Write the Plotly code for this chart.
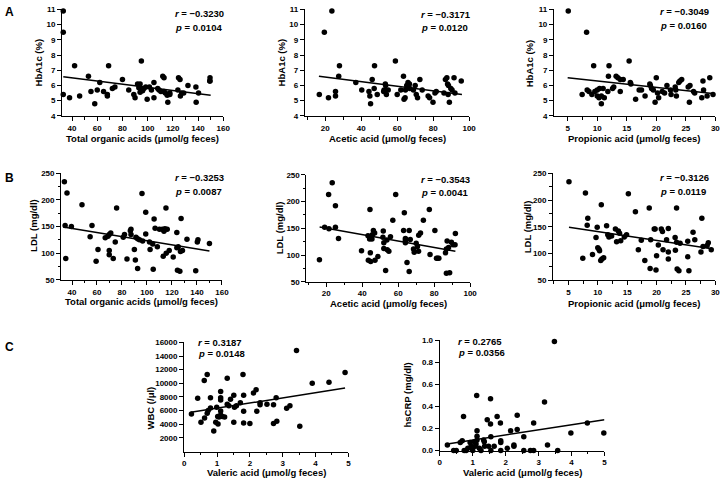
import plotly.graph_objects as go

# ---------------- DATA ----------------
# A1: Total organic acids vs HbA1c
a1_x = [33, 33, 42, 69, 95, 33, 38, 46, 53, 55, 58, 60, 62, 65, 68, 68, 72, 74, 80, 85, 89, 90,
        92, 94, 93, 95, 94, 96, 97, 98.5, 99.6, 101.4, 103, 105, 105, 108, 109, 110.5, 112, 113, 113,
        114, 116, 115.5, 117.6, 117.6, 124, 124.5, 125.7, 126, 127, 128.6, 132, 138.3, 138.5, 140.4,
        149.5, 149.5, 149.3]
a1_y = [10.9, 9.5, 7.3, 7.3, 7.6, 5.4, 5.2, 5.3, 6.6, 5.6, 4.8, 5.7, 6.2, 5.6, 5.4, 5.3, 5.8, 5.9,
        6.4, 5.7, 5.4, 5.2, 6.1, 6.1, 5.85, 5.75, 5.55, 5.65, 5.8, 5.9, 5.1, 5.9, 5.7, 6.2, 5.2, 5.8,
        5.7, 5.6, 6.6, 6.5, 5.6, 5.5, 4.9, 5.35, 5.5, 5.4, 5.7, 6.5, 6.4, 5.3, 5.5, 5.5, 6.0, 5.9,
        4.9, 5.5, 6.5, 6.3, 6.3]
a1_fit_x = [33, 150]
a1_fit_y = [6.57, 5.35]

# A2: Acetic acid vs HbA1c
a2_x = [23.7, 19.5, 27.9, 27.5, 47.4, 59, 16.7, 21.8, 25.7, 25.7, 37, 40.3, 44.3, 44.8, 45.2, 46.1,
        47.2, 48.9, 52.5, 52.7, 53.4, 53.6, 54, 55, 60, 62, 63.5, 63.8, 64.4, 64.6, 65.3, 66, 66.8,
        67, 69, 70, 70.6, 71.3, 72.6, 73.9, 77.2, 78, 79.9, 81, 81.7, 86, 86.8, 87.6, 88, 88.5, 88.3,
        89, 89.8, 90.5, 91.6, 92.1, 95.6]
a2_y = [10.9, 9.5, 7.3, 6.6, 7.3, 7.6, 5.4, 5.2, 5.6, 5.3, 6.2, 5.7, 5.6, 5.3, 4.8, 6.4, 5.8, 5.4,
        5.6, 5.7, 6.1, 6.0, 5.4, 5.7, 5.4, 5.7, 6.6, 5.1, 5.2, 5.7, 6.0, 6.2, 6.1, 5.8, 5.7, 6.0,
        5.4, 5.2, 6.4, 5.7, 5.3, 5.2, 4.9, 5.5, 5.6, 5.5, 6.4, 6.5, 6.1, 6.0, 5.4, 4.9, 5.8, 5.7,
        6.5, 5.5, 6.3]
a2_fit_x = [16.5, 96]
a2_fit_y = [6.6, 5.4]

# A3: Propionic acid vs HbA1c
a3_x = [5.1, 8.2, 9.4, 12, 15.4, 7.45, 8.3, 8.6, 9.1, 9.6, 10, 10, 10.4, 10.3, 10.7, 10.7, 11, 11.2,
        11.8, 11.9, 12.6, 12.8, 13.2, 13.5, 13.9, 13.9, 14.4, 15.6, 15.7, 16.5, 17.1, 17.5, 18.1,
        18.9, 19.0, 19.2, 19.5, 19.8, 20, 20.2, 20.4, 21, 21.4, 21.8, 22.4, 22.5, 23.2, 23.3, 23.4,
        23.8, 24.0, 24.3, 25.4, 25.7, 25.6, 26.3, 26.5, 27.7, 27.9, 28, 28.6, 29.05, 29.6]
a3_y = [10.9, 9.5, 7.3, 7.3, 7.6, 5.4, 5.7, 5.6, 5.4, 5.6, 5.7, 5.3, 5.8, 5.2, 5.3, 4.8, 5.8, 5.2,
        5.6, 6.6, 5.8, 5.9, 6.6, 6.5, 6.4, 5.6, 6.4, 6.2, 6.1, 5.1, 5.7, 5.7, 5.3, 6.1, 6.0, 5.8,
        5.7, 4.9, 6.5, 5.5, 5.2, 5.6, 5.5, 6.0, 5.7, 5.4, 5.9, 5.7, 5.3, 6.2, 6.3, 6.4, 5.9, 6.0,
        4.9, 5.6, 5.5, 5.2, 6.3, 5.7, 5.3, 6.5, 5.4]
a3_fit_x = [5, 29.9]
a3_fit_y = [6.5, 5.45]

# B1: Total organic acids vs LDL
b1_x = [33.9, 36, 34.5, 35, 39.5, 48, 54.5, 56, 59.3, 60.8, 66.6, 68.8, 69.8, 71, 69.8, 69.8, 73,
        74.6, 75.7, 81, 82, 84, 86.7, 87.2, 87.2, 89.9, 90.7, 91.2, 92.5, 92.5, 94, 96, 96.5, 99,
        99, 102, 102.5, 104.6, 105, 105.7, 106.5, 108.3, 110, 112.3, 113, 113.6, 114.4, 115.2,
        115.4, 116.2, 117.8, 121, 123.9, 123.9, 125, 124.4, 126.3, 127.3, 126.8, 128.4, 132, 139,
        140.3, 140.8, 150]
b1_y = [234, 213, 152, 90, 150, 191, 131, 152, 85, 107, 129, 132, 135, 138, 105, 97, 90, 121, 185,
        130, 135, 89, 142, 145, 135, 107, 87, 130, 127, 71, 125, 212, 123, 136, 177, 121, 107, 117,
        70, 164, 147, 112, 145, 145, 94, 141, 146, 185, 100, 145, 105, 93, 139, 110, 112, 68, 66,
        165, 103, 105, 126, 67, 121, 125, 118]
b1_fit_x = [33, 150]
b1_fit_y = [149, 104]

# B2: Acetic acid vs LDL
b2_x = [16.2, 19.1, 21.3, 21.5, 23.3, 25.1, 25.1, 26.8, 39.6, 43.2, 43.4, 44.1, 44.5, 44.3, 44.7,
        45.4, 45.6, 46.2, 46.9, 47.1, 48.7, 51.7, 51.5, 52, 52, 53, 53.7, 53.9, 54.8, 55.7, 57, 58.6,
        63, 63.4, 64, 64, 64, 64.9, 66.1, 66.1, 66.7, 68.5, 68.9, 70, 70.7, 71.3, 71.4, 72.4, 74,
        77.3, 77.7, 80.4, 81.3, 81.9, 82.6, 86.3, 86.8, 87.2, 88, 86.8, 88.6, 89.6, 90.5, 91.6, 91.8]
b2_y = [91, 152, 213, 149, 235, 192, 152, 131, 108, 136, 90, 130, 104, 185, 88, 130, 138, 146, 141,
        90, 97, 145, 133, 123, 112, 71, 128, 110, 107, 134, 165, 213, 146, 179, 127, 123, 131, 86,
        146, 69, 129, 111, 105, 122, 116, 107, 137, 141, 165, 185, 101, 146, 94, 94, 94, 104, 111,
        126, 114, 66, 67, 124, 119, 119, 140]
b2_fit_x = [16.3, 91.8]
b2_fit_y = [152.5, 107]

# B3: Propionic acid vs LDL
b3_x = [5.1, 7.45, 7.9, 8.3, 8.2, 9.1, 9.7, 9.9, 10, 10.2, 10.3, 10.5, 10.6, 10.7, 11, 11.5, 11.7,
        11.9, 12.35, 13, 13.2, 13.5, 13.7, 13.9, 14.5, 14.9, 15.2, 16.4, 16.9, 17.4, 18, 18.75, 18.9,
        19, 19.6, 19.75, 19.9, 20, 20.3, 20.8, 21, 21.1, 21.7, 22, 22, 22, 23.15, 23.2, 23.4, 23.4,
        23.5, 23.8, 24, 25.3, 25.3, 25.5, 26.2, 26.5, 27.55, 27.7, 27.9, 28.6, 28.8, 29.3]
b3_y = [234, 91, 213, 166, 153, 98, 130, 149, 111, 108, 105, 87, 191, 90, 92, 152, 135, 131, 133,
        146, 122, 142, 138, 124, 131, 135, 212, 178, 107, 125, 87, 185, 72, 126, 146, 146, 69, 96,
        116, 146, 141, 107, 126, 147, 103, 90, 130, 106, 185, 121, 71, 68, 119, 94, 123, 68, 140,
        126, 103, 166, 113, 115, 120, 107]
b3_fit_x = [5.1, 29.4]
b3_fit_y = [149, 109]

# C1: Valeric acid vs WBC
c1_x = [0.22, 0.41, 0.51, 0.61, 0.62, 0.7, 0.7, 0.73, 0.8, 0.8, 0.9, 0.96, 0.99, 1.02, 1.03, 1.06,
        1.11, 1.11, 1.11, 1.11, 1.11, 1.16, 1.23, 1.31, 1.31, 1.36, 1.41, 1.51, 1.51, 1.53, 1.59,
        1.71, 1.79, 1.81, 1.81, 1.81, 2.0, 2.11, 2.19, 2.21, 2.31, 2.31, 2.52, 2.72, 2.72, 2.8, 2.82,
        3.12, 3.22, 3.42, 3.52, 3.9, 4.41, 4.9]
c1_y = [5500, 7800, 4300, 10400, 4900, 11300, 5600, 6000, 7900, 6400, 3000, 4300, 6500, 5150,
        4050, 5050, 8800, 7900, 7550, 5950, 5350, 5150, 5050, 10750, 6950, 6700, 7650, 8250, 4300,
        6500, 6700, 7150, 11300, 8250, 5900, 4200, 4100, 8600, 9050, 5900, 7150, 6850, 6950, 6850,
        4100, 7900, 4450, 6350, 6700, 14800, 3700, 10000, 10150, 11600]
c1_fit_x = [0.2, 4.9]
c1_fit_y = [5750, 9300]

# C2: Valeric acid vs hsCRP
c2_x = [0.23, 0.42, 0.5, 0.62, 0.68, 0.72, 0.74, 0.8, 0.85, 0.92, 0.95, 0.98, 1.0, 1.05, 1.08,
        1.12, 1.13, 1.13, 1.13, 1.1, 1.2, 1.25, 1.33, 1.35, 1.36, 1.44, 1.48, 1.54, 1.54, 1.55,
        1.55, 1.65, 1.74, 1.84, 1.85, 1.85, 1.85, 2.05, 2.15, 2.25, 2.25, 2.35, 2.35, 2.55, 2.55,
        2.75, 2.85, 2.85, 3.18, 3.27, 3.48, 3.58, 3.98, 4.48, 4.98]
c2_y = [0.05, 0.0, 0.0, 0.074, 0.089, 0.31, 0.0, 0.0, 0.02, 0.074, 0.04, 0.02, 0.0, 0.08, 0.04,
        0.5, 0.18, 0.13, 0.095, 0.06, 0.02, 0.0, 0.095, 0.08, 0.04, 0.28, 0.04, 0.47, 0.24, 0.125,
        0.0, 0.04, 0.31, 0.25, 0.09, 0.074, 0.0, 0.02, 0.18, 0.04, 0.05, 0.32, 0.19, 0.125, 0.0,
        0.0, 0.0, 0.25, 0.44, 0.05, 0.99, 0.0, 0.16, 0.25, 0.16]
c2_fit_x = [0.23, 5.0]
c2_fit_y = [0.06, 0.28]

# Labels / stats
r_texts = ["\u22120.3230", "\u22120.3171", "\u22120.3049", "\u22120.3253", "\u22120.3543",
           "\u22120.3126", "0.3187", "0.2765"]
p_texts = ["0.0104", "0.0120", "0.0160", "0.0087", "0.0041", "0.0119", "0.0148", "0.0356"]
x_titles = ["Total organic acids (\u03bcmol/g feces)", "Acetic acid (\u03bcmol/g feces)",
            "Propionic acid (\u03bcmol/g feces)", "Total organic acids (\u03bcmol/g feces)",
            "Acetic acid (\u03bcmol/g feces)", "Propionic acid (\u03bcmol/g feces)",
            "Valeric acid (\u03bcmol/g feces)", "Valeric acid (\u03bcmol/g feces)"]
y_titles = ["HbA1c (%)", "HbA1c (%)", "HbA1c (%)", "LDL (mg/dl)", "LDL (mg/dl)", "LDL (mg/dl)",
            "WBC (/\u03bcl)", "hsCRP (mg/dl)"]
panel_letters = ["A", "B", "C"]

# ---------------- LAYOUT GEOMETRY (pixels) ----------------
W, H = 728, 485
boxes = [(61, 224, 5.5, 114), (306.7, 473, 5.5, 114), (559, 722.3, 5.5, 114),
         (60, 222.7, 172.5, 281), (308.3, 474, 174, 283), (558, 722.3, 172.5, 281.5),
         (184.5, 350.7, 344.8, 456), (443.3, 610, 342.7, 455)]
x_ranges = [[32.2, 160], [8.7, 100], [2.7, 30], [31.4, 160], [9, 100], [2.4, 30], [0, 5], [0, 5]]
y_ranges = [[4, 11], [4, 11], [4, 11], [50, 250], [50, 250], [50, 250], [0, 16000], [0, 1]]
x_ticks = [[40, 60, 80, 100, 120, 140, 160], [20, 40, 60, 80, 100], [5, 10, 15, 20, 25, 30],
           [40, 60, 80, 100, 120, 140, 160], [20, 40, 60, 80, 100], [5, 10, 15, 20, 25, 30],
           [0, 1, 2, 3, 4, 5], [0, 1, 2, 3, 4, 5]]
x_minor = [10, 10, 2.5, 10, 10, 2.5, 0.5, 0.5]
y_ticks = [[4, 5, 6, 7, 8, 9, 10, 11]] * 3 + [[50, 100, 150, 200, 250]] * 3 + \
          [[2000, 4000, 6000, 8000, 10000, 12000, 14000, 16000], [0, 0.2, 0.4, 0.6, 0.8, 1.0]]
y_minor = [None, None, None, 25, 25, 25, None, None]
y_fmt = ["", "", "", "", "", "", "d", ".1f"]
stat_pos = [(173, 10, 23.5), (422, 10.5, 24), (664, 8, 21.5), (173, 177, 191), (422.5, 178.5, 192.5),
            (664, 177, 191), (196.5, 345, 356), (460, 344, 355)]
xt_pos = [(142.5, 137), (390, 137), (640.5, 137), (141, 303), (391, 305.5), (640, 305.5),
          (268, 477), (527, 477)]
yt_pos = [(37, 60), (283, 60), (535, 60), (32.5, 226), (281, 228), (531.5, 226.5), (150, 412),
          (411, 398)]
letter_pos = [(7.5, 8), (7.5, 177), (7.5, 349)]

xs = [a1_x, a2_x, a3_x, b1_x, b2_x, b3_x, c1_x, c2_x]
ys = [a1_y, a2_y, a3_y, b1_y, b2_y, b3_y, c1_y, c2_y]
fxs = [a1_fit_x, a2_fit_x, a3_fit_x, b1_fit_x, b2_fit_x, b3_fit_x, c1_fit_x, c2_fit_x]
fys = [a1_fit_y, a2_fit_y, a3_fit_y, b1_fit_y, b2_fit_y, b3_fit_y, c1_fit_y, c2_fit_y]

FONT = "Arial, Liberation Sans, Helvetica, sans-serif"

fig = go.Figure()
layout = dict(width=W, height=H, margin=dict(l=0, r=0, t=0, b=0), showlegend=False,
              paper_bgcolor="white", plot_bgcolor="white",
              font=dict(family=FONT, color="black"))
annotations = []


def px_x(v):
    return v / W


def px_y(v):
    return 1 - v / H


for i in range(8):
    n = i + 1
    xa = "x" if n == 1 else f"x{n}"
    ya = "y" if n == 1 else f"y{n}"
    x0, x1, yt, yb = boxes[i]
    axis_common = dict(showline=True, linecolor="black", linewidth=1.3, ticks="outside",
                       ticklen=4, tickwidth=1.2, tickcolor="black", showgrid=False,
                       zeroline=False, tickfont=dict(size=8, family=FONT, weight="bold"))
    xminor = dict(ticks="outside", ticklen=2.5, tickwidth=1, tickcolor="black", tick0=0,
                  dtick=x_minor[i], showgrid=False)
    layout["xaxis" if n == 1 else f"xaxis{n}"] = dict(
        axis_common, domain=[px_x(x0), px_x(x1)], range=x_ranges[i], tickvals=x_ticks[i],
        anchor=ya, minor=xminor)
    ydict = dict(axis_common, domain=[px_y(yb), px_y(yt)], range=y_ranges[i],
                 tickvals=y_ticks[i], tickformat=y_fmt[i], anchor=xa)
    if y_minor[i]:
        ydict["minor"] = dict(ticks="outside", ticklen=2.5, tickwidth=1, tickcolor="black",
                              tick0=0, dtick=y_minor[i], showgrid=False)
    layout["yaxis" if n == 1 else f"yaxis{n}"] = ydict
    fig.add_trace(go.Scatter(x=xs[i], y=ys[i], mode="markers", xaxis=xa, yaxis=ya,
                             marker=dict(color="black", size=5.5), cliponaxis=False,
                             hoverinfo="skip"))
    fig.add_trace(go.Scatter(x=fxs[i], y=fys[i], mode="lines", xaxis=xa, yaxis=ya,
                             line=dict(color="black", width=1.5), cliponaxis=False,
                             hoverinfo="skip"))
    sx, ry, py = stat_pos[i]
    annotations.append(dict(x=px_x(sx), y=px_y(ry), xref="paper", yref="paper", xanchor="left",
                            yanchor="middle", showarrow=False,
                            text=f"<b><i>r</i> = {r_texts[i]}</b>", font=dict(size=9.5, family=FONT)))
    annotations.append(dict(x=px_x(sx), y=px_y(py), xref="paper", yref="paper", xanchor="left",
                            yanchor="middle", showarrow=False,
                            text=f"<b><i>p</i> = {p_texts[i]}</b>", font=dict(size=9.5, family=FONT)))
    tx, ty = xt_pos[i]
    annotations.append(dict(x=px_x(tx), y=px_y(ty), xref="paper", yref="paper", xanchor="center",
                            yanchor="middle", showarrow=False, text=f"<b>{x_titles[i]}</b>",
                            font=dict(size=9.5, family=FONT)))
    yx, yy = yt_pos[i]
    annotations.append(dict(x=px_x(yx), y=px_y(yy), xref="paper", yref="paper", xanchor="center",
                            yanchor="middle", showarrow=False, text=f"<b>{y_titles[i]}</b>",
                            textangle=-90, font=dict(size=9.5, family=FONT)))

for j, letter in enumerate(panel_letters):
    lx, ly = letter_pos[j]
    annotations.append(dict(x=px_x(lx), y=px_y(ly), xref="paper", yref="paper", xanchor="center",
                            yanchor="middle", showarrow=False, text=f"<b>{letter}</b>",
                            font=dict(size=12, family=FONT)))

layout["annotations"] = annotations
fig.update_layout(**layout)
fig.write_html("out.html", config={"displayModeBar": False},
               post_script="document.body.style.margin='0px';document.body.style.overflow='hidden';")
